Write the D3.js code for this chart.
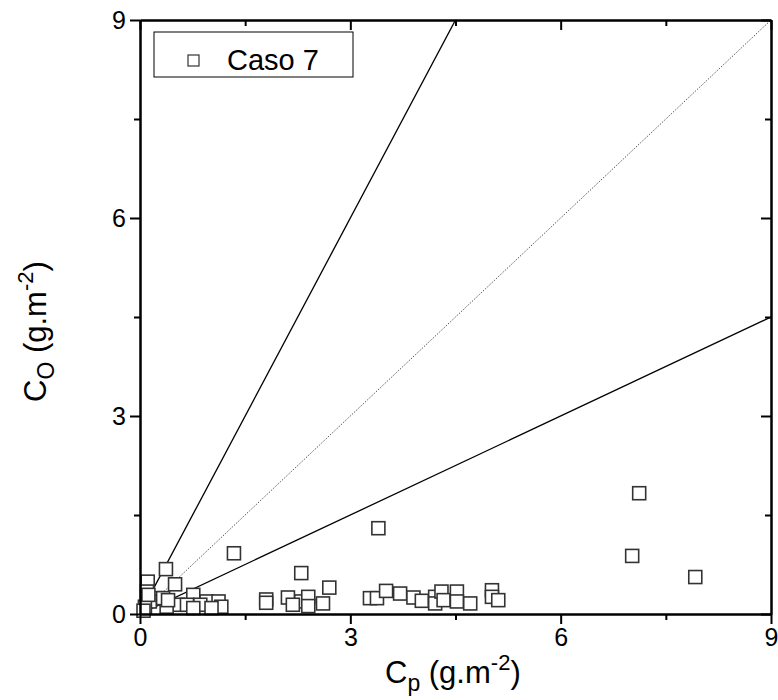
<!DOCTYPE html>
<html>
<head>
<meta charset="utf-8">
<script src="https://cdn.jsdelivr.net/npm/d3@7"></script>
<style>
  body { margin: 0; background: #fff; }
  svg { font-family: "Liberation Sans", Arial, sans-serif; }
</style>
</head>
<body>
<svg width="778" height="700"></svg>
<script>
// Caso 7 - observed vs predicted
var cpValues = [7.12, 7.02, 7.92, 3.40, 1.34, 2.30, 2.70, 1.80, 1.80, 2.11, 2.30, 2.40, 2.40, 2.61, 2.18,
                3.28, 3.38, 3.51, 3.71, 3.90, 4.02, 4.21, 4.21, 4.30, 4.33, 4.52, 4.52, 4.71, 5.02, 5.02, 5.11,
                0.37, 0.50, 0.11, 0.10, 0.76, 0.54, 0.95, 1.12, 1.16, 0.86, 0.67, 0.38, 0.26, 0.14, 0.07,
                0.12, 0.33, 0.40, 1.02, 0.76, 0.05];
var coValues = [1.83, 0.88, 0.56, 1.30, 0.92, 0.62, 0.40, 0.22, 0.17, 0.25, 0.19, 0.26, 0.12, 0.16, 0.14,
                0.24, 0.24, 0.35, 0.31, 0.25, 0.20, 0.26, 0.16, 0.34, 0.21, 0.34, 0.19, 0.16, 0.36, 0.26, 0.21,
                0.68, 0.45, 0.49, 0.34, 0.29, 0.14, 0.19, 0.19, 0.11, 0.14, 0.14, 0.11, 0.24, 0.19, 0.11,
                0.29, 0.24, 0.21, 0.09, 0.09, 0.05];
var majorTicks = [0, 3, 6, 9];
var minorTicks = [1.5, 4.5, 7.5];
var refSlopes = [2, 1, 0.5];   // 2:1, 1:1 and 1:2 lines
var legendLabel = "Caso 7";

var points = cpValues.map((d, i) => ({cp: d, co: coValues[i]}));

var svg = d3.select("svg");
var margin = {left: 140, top: 20, right: 7, bottom: 86};
var width = 778 - margin.left - margin.right;
var height = 700 - margin.top - margin.bottom;

var x = d3.scaleLinear().domain([0, 9]).range([0, width]);
var y = d3.scaleLinear().domain([0, 9]).range([height, 0]);

var g = svg.append("g").attr("transform", `translate(${margin.left},${margin.top})`);

g.append("clipPath").attr("id", "plotclip")
  .append("rect").attr("width", width).attr("height", height);

// reference lines
var lines = g.append("g").attr("clip-path", "url(#plotclip)");
refSlopes.forEach(s => {
  lines.append("line")
    .attr("x1", x(0)).attr("y1", y(0))
    .attr("x2", x(9)).attr("y2", y(9 * s))
    .attr("stroke", s == 1 ? "#555" : "#000")
    .attr("stroke-width", s == 1 ? 1 : 1.3)
    .attr("stroke-dasharray", s == 1 ? "1.5,1.5" : null);
});

// points
g.append("g").selectAll("rect")
  .data(points)
  .enter()
  .append("rect")
    .attr("x", d => x(d.cp) - 6.5)
    .attr("y", d => y(d.co) - 6.5)
    .attr("width", 13)
    .attr("height", 13)
    .attr("fill", "#fff")
    .attr("stroke", "#333")
    .attr("stroke-width", 1.6);

// axes
function styleAxis(sel) {
  sel.selectAll("path.domain").attr("stroke", "#000").attr("stroke-width", 2);
  sel.selectAll(".tick line").attr("stroke", "#000").attr("stroke-width", 2);
  sel.selectAll("text").attr("font-size", 25).attr("fill", "#000")
    .attr("font-family", "Liberation Sans, Arial, sans-serif");
}

g.append("g").attr("transform", `translate(0,${height})`)
  .call(d3.axisBottom(x).tickValues(majorTicks).tickSize(10).tickSizeOuter(0).tickPadding(4).tickFormat(d3.format("d")))
  .call(styleAxis);
g.append("g").attr("transform", `translate(0,${height})`)
  .call(d3.axisBottom(x).tickValues(minorTicks).tickSize(6).tickSizeOuter(0).tickFormat(""))
  .call(styleAxis);
g.append("g")
  .call(d3.axisLeft(y).tickValues(majorTicks).tickSize(10).tickSizeOuter(0).tickPadding(4).tickFormat(d3.format("d")))
  .call(styleAxis);
g.append("g")
  .call(d3.axisLeft(y).tickValues(minorTicks).tickSize(6).tickSizeOuter(0).tickFormat(""))
  .call(styleAxis);
// top and right: inward ticks, no labels
g.append("g")
  .call(d3.axisTop(x).tickValues(majorTicks).tickSize(-10).tickSizeOuter(0).tickFormat(""))
  .call(styleAxis);
g.append("g")
  .call(d3.axisTop(x).tickValues(minorTicks).tickSize(-6).tickSizeOuter(0).tickFormat(""))
  .call(styleAxis);
g.append("g").attr("transform", `translate(${width},0)`)
  .call(d3.axisRight(y).tickValues(majorTicks).tickSize(-10).tickSizeOuter(0).tickFormat(""))
  .call(styleAxis);
g.append("g").attr("transform", `translate(${width},0)`)
  .call(d3.axisRight(y).tickValues(minorTicks).tickSize(-6).tickSizeOuter(0).tickFormat(""))
  .call(styleAxis);

// axis titles
var xt = svg.append("text")
  .attr("x", 385).attr("y", 683)
  .attr("font-size", 31);
xt.append("tspan").text("C");
xt.append("tspan").attr("font-size", 23).attr("dy", 8).text("p");
xt.append("tspan").attr("dy", -8).text(" (g.m");
xt.append("tspan").attr("font-size", 22).attr("dy", -13).text("-2");
xt.append("tspan").attr("dy", 13).text(")");

var yt = svg.append("text")
  .attr("transform", "translate(46,402) rotate(-90)")
  .attr("font-size", 31);
yt.append("tspan").text("C");
yt.append("tspan").attr("font-size", 23).attr("dy", 8).text("O");
yt.append("tspan").attr("dy", -8).text(" (g.m");
yt.append("tspan").attr("font-size", 22).attr("dy", -13).text("-2");
yt.append("tspan").attr("dy", 13).text(")");

// legend
var legend = svg.append("g");
legend.append("rect")
  .attr("x", 154).attr("y", 32).attr("width", 199).attr("height", 45)
  .attr("fill", "#fff").attr("stroke", "#000").attr("stroke-width", 1);
legend.append("rect")
  .attr("x", 188).attr("y", 55).attr("width", 11).attr("height", 11)
  .attr("fill", "#fff").attr("stroke", "#333").attr("stroke-width", 1.2);
legend.append("text")
  .attr("x", 227).attr("y", 70)
  .attr("font-size", 29)
  .text(legendLabel);
</script>
</body>
</html>
